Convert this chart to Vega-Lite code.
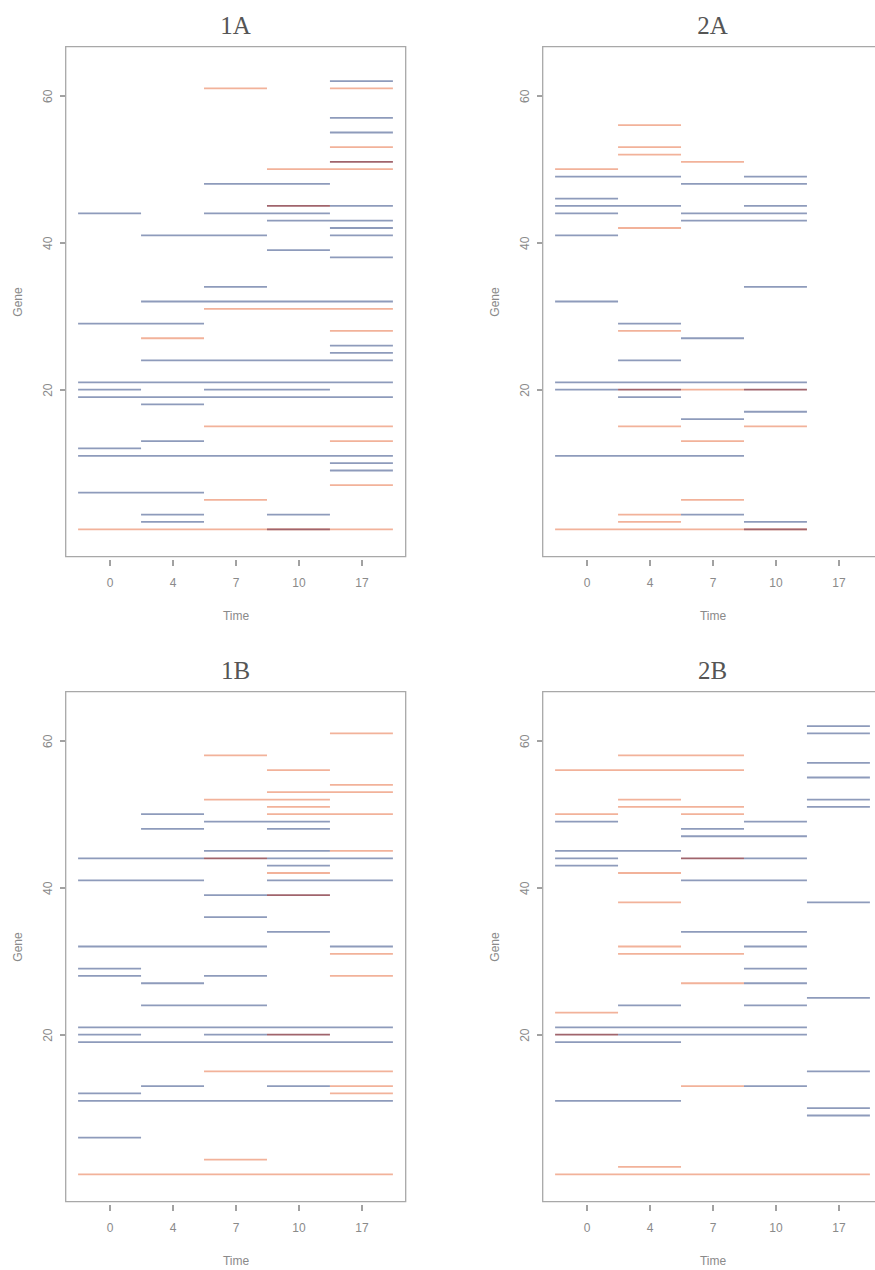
{
  "$schema": "https://vega.github.io/schema/vega-lite/v6.json",
  "description": "Gene segments over time points for four groups; each rule covers the time columns in which a gene is flagged.",
  "background": "white",
  "padding": {"left": 9.5, "top": 12.5, "right": 0, "bottom": 0},
  "datasets": {
    "segs": [
      {"panel": "1A", "gene": 62, "from": 4, "to": 5, "dir": "down"},
      {"panel": "1A", "gene": 61, "from": 2, "to": 3, "dir": "up"},
      {"panel": "1A", "gene": 61, "from": 4, "to": 5, "dir": "up"},
      {"panel": "1A", "gene": 57, "from": 4, "to": 5, "dir": "down"},
      {"panel": "1A", "gene": 55, "from": 4, "to": 5, "dir": "down"},
      {"panel": "1A", "gene": 53, "from": 4, "to": 5, "dir": "up"},
      {"panel": "1A", "gene": 50, "from": 3, "to": 5, "dir": "up"},
      {"panel": "1A", "gene": 48, "from": 2, "to": 4, "dir": "down"},
      {"panel": "1A", "gene": 45, "from": 4, "to": 5, "dir": "down"},
      {"panel": "1A", "gene": 44, "from": 0, "to": 1, "dir": "down"},
      {"panel": "1A", "gene": 44, "from": 2, "to": 4, "dir": "down"},
      {"panel": "1A", "gene": 43, "from": 3, "to": 5, "dir": "down"},
      {"panel": "1A", "gene": 42, "from": 4, "to": 5, "dir": "down"},
      {"panel": "1A", "gene": 41, "from": 1, "to": 3, "dir": "down"},
      {"panel": "1A", "gene": 41, "from": 4, "to": 5, "dir": "down"},
      {"panel": "1A", "gene": 39, "from": 3, "to": 4, "dir": "down"},
      {"panel": "1A", "gene": 38, "from": 4, "to": 5, "dir": "down"},
      {"panel": "1A", "gene": 34, "from": 2, "to": 3, "dir": "down"},
      {"panel": "1A", "gene": 32, "from": 1, "to": 5, "dir": "down"},
      {"panel": "1A", "gene": 31, "from": 2, "to": 5, "dir": "up"},
      {"panel": "1A", "gene": 29, "from": 0, "to": 2, "dir": "down"},
      {"panel": "1A", "gene": 28, "from": 4, "to": 5, "dir": "up"},
      {"panel": "1A", "gene": 27, "from": 1, "to": 2, "dir": "up"},
      {"panel": "1A", "gene": 26, "from": 4, "to": 5, "dir": "down"},
      {"panel": "1A", "gene": 25, "from": 4, "to": 5, "dir": "down"},
      {"panel": "1A", "gene": 24, "from": 1, "to": 5, "dir": "down"},
      {"panel": "1A", "gene": 21, "from": 0, "to": 5, "dir": "down"},
      {"panel": "1A", "gene": 20, "from": 0, "to": 1, "dir": "down"},
      {"panel": "1A", "gene": 20, "from": 2, "to": 4, "dir": "down"},
      {"panel": "1A", "gene": 19, "from": 0, "to": 5, "dir": "down"},
      {"panel": "1A", "gene": 18, "from": 1, "to": 2, "dir": "down"},
      {"panel": "1A", "gene": 15, "from": 2, "to": 5, "dir": "up"},
      {"panel": "1A", "gene": 13, "from": 1, "to": 2, "dir": "down"},
      {"panel": "1A", "gene": 13, "from": 4, "to": 5, "dir": "up"},
      {"panel": "1A", "gene": 12, "from": 0, "to": 1, "dir": "down"},
      {"panel": "1A", "gene": 11, "from": 0, "to": 5, "dir": "down"},
      {"panel": "1A", "gene": 10, "from": 4, "to": 5, "dir": "down"},
      {"panel": "1A", "gene": 9, "from": 4, "to": 5, "dir": "down"},
      {"panel": "1A", "gene": 7, "from": 4, "to": 5, "dir": "up"},
      {"panel": "1A", "gene": 6, "from": 0, "to": 2, "dir": "down"},
      {"panel": "1A", "gene": 5, "from": 2, "to": 3, "dir": "up"},
      {"panel": "1A", "gene": 3, "from": 1, "to": 2, "dir": "down"},
      {"panel": "1A", "gene": 3, "from": 3, "to": 4, "dir": "down"},
      {"panel": "1A", "gene": 2, "from": 1, "to": 2, "dir": "down"},
      {"panel": "1A", "gene": 1, "from": 0, "to": 5, "dir": "up"},

      {"panel": "2A", "gene": 56, "from": 1, "to": 2, "dir": "up"},
      {"panel": "2A", "gene": 53, "from": 1, "to": 2, "dir": "up"},
      {"panel": "2A", "gene": 52, "from": 1, "to": 2, "dir": "up"},
      {"panel": "2A", "gene": 51, "from": 2, "to": 3, "dir": "up"},
      {"panel": "2A", "gene": 50, "from": 0, "to": 1, "dir": "up"},
      {"panel": "2A", "gene": 49, "from": 0, "to": 2, "dir": "down"},
      {"panel": "2A", "gene": 49, "from": 3, "to": 4, "dir": "down"},
      {"panel": "2A", "gene": 48, "from": 2, "to": 4, "dir": "down"},
      {"panel": "2A", "gene": 46, "from": 0, "to": 1, "dir": "down"},
      {"panel": "2A", "gene": 45, "from": 0, "to": 2, "dir": "down"},
      {"panel": "2A", "gene": 45, "from": 3, "to": 4, "dir": "down"},
      {"panel": "2A", "gene": 44, "from": 0, "to": 1, "dir": "down"},
      {"panel": "2A", "gene": 44, "from": 2, "to": 4, "dir": "down"},
      {"panel": "2A", "gene": 43, "from": 2, "to": 4, "dir": "down"},
      {"panel": "2A", "gene": 42, "from": 1, "to": 2, "dir": "up"},
      {"panel": "2A", "gene": 41, "from": 0, "to": 1, "dir": "down"},
      {"panel": "2A", "gene": 34, "from": 3, "to": 4, "dir": "down"},
      {"panel": "2A", "gene": 32, "from": 0, "to": 1, "dir": "down"},
      {"panel": "2A", "gene": 29, "from": 1, "to": 2, "dir": "down"},
      {"panel": "2A", "gene": 28, "from": 1, "to": 2, "dir": "up"},
      {"panel": "2A", "gene": 27, "from": 2, "to": 3, "dir": "down"},
      {"panel": "2A", "gene": 24, "from": 1, "to": 2, "dir": "down"},
      {"panel": "2A", "gene": 21, "from": 0, "to": 4, "dir": "down"},
      {"panel": "2A", "gene": 20, "from": 0, "to": 1, "dir": "down"},
      {"panel": "2A", "gene": 20, "from": 2, "to": 3, "dir": "up"},
      {"panel": "2A", "gene": 19, "from": 1, "to": 2, "dir": "down"},
      {"panel": "2A", "gene": 17, "from": 3, "to": 4, "dir": "down"},
      {"panel": "2A", "gene": 16, "from": 2, "to": 3, "dir": "down"},
      {"panel": "2A", "gene": 15, "from": 1, "to": 2, "dir": "up"},
      {"panel": "2A", "gene": 15, "from": 3, "to": 4, "dir": "up"},
      {"panel": "2A", "gene": 13, "from": 2, "to": 3, "dir": "up"},
      {"panel": "2A", "gene": 11, "from": 0, "to": 3, "dir": "down"},
      {"panel": "2A", "gene": 5, "from": 2, "to": 3, "dir": "up"},
      {"panel": "2A", "gene": 3, "from": 1, "to": 2, "dir": "up"},
      {"panel": "2A", "gene": 3, "from": 2, "to": 3, "dir": "down"},
      {"panel": "2A", "gene": 2, "from": 1, "to": 2, "dir": "up"},
      {"panel": "2A", "gene": 2, "from": 3, "to": 4, "dir": "down"},
      {"panel": "2A", "gene": 1, "from": 0, "to": 4, "dir": "up"},

      {"panel": "1B", "gene": 61, "from": 4, "to": 5, "dir": "up"},
      {"panel": "1B", "gene": 58, "from": 2, "to": 3, "dir": "up"},
      {"panel": "1B", "gene": 56, "from": 3, "to": 4, "dir": "up"},
      {"panel": "1B", "gene": 54, "from": 4, "to": 5, "dir": "up"},
      {"panel": "1B", "gene": 53, "from": 3, "to": 5, "dir": "up"},
      {"panel": "1B", "gene": 52, "from": 2, "to": 4, "dir": "up"},
      {"panel": "1B", "gene": 51, "from": 3, "to": 4, "dir": "up"},
      {"panel": "1B", "gene": 50, "from": 1, "to": 2, "dir": "down"},
      {"panel": "1B", "gene": 50, "from": 3, "to": 5, "dir": "up"},
      {"panel": "1B", "gene": 49, "from": 2, "to": 4, "dir": "down"},
      {"panel": "1B", "gene": 48, "from": 1, "to": 2, "dir": "down"},
      {"panel": "1B", "gene": 48, "from": 3, "to": 4, "dir": "down"},
      {"panel": "1B", "gene": 45, "from": 2, "to": 4, "dir": "down"},
      {"panel": "1B", "gene": 45, "from": 4, "to": 5, "dir": "up"},
      {"panel": "1B", "gene": 44, "from": 0, "to": 2, "dir": "down"},
      {"panel": "1B", "gene": 44, "from": 3, "to": 5, "dir": "down"},
      {"panel": "1B", "gene": 43, "from": 3, "to": 4, "dir": "down"},
      {"panel": "1B", "gene": 42, "from": 3, "to": 4, "dir": "up"},
      {"panel": "1B", "gene": 41, "from": 0, "to": 2, "dir": "down"},
      {"panel": "1B", "gene": 41, "from": 3, "to": 5, "dir": "down"},
      {"panel": "1B", "gene": 39, "from": 2, "to": 3, "dir": "down"},
      {"panel": "1B", "gene": 36, "from": 2, "to": 3, "dir": "down"},
      {"panel": "1B", "gene": 34, "from": 3, "to": 4, "dir": "down"},
      {"panel": "1B", "gene": 32, "from": 0, "to": 3, "dir": "down"},
      {"panel": "1B", "gene": 32, "from": 4, "to": 5, "dir": "down"},
      {"panel": "1B", "gene": 31, "from": 4, "to": 5, "dir": "up"},
      {"panel": "1B", "gene": 29, "from": 0, "to": 1, "dir": "down"},
      {"panel": "1B", "gene": 28, "from": 0, "to": 1, "dir": "down"},
      {"panel": "1B", "gene": 28, "from": 2, "to": 3, "dir": "down"},
      {"panel": "1B", "gene": 28, "from": 4, "to": 5, "dir": "up"},
      {"panel": "1B", "gene": 27, "from": 1, "to": 2, "dir": "down"},
      {"panel": "1B", "gene": 24, "from": 1, "to": 3, "dir": "down"},
      {"panel": "1B", "gene": 21, "from": 0, "to": 5, "dir": "down"},
      {"panel": "1B", "gene": 20, "from": 0, "to": 1, "dir": "down"},
      {"panel": "1B", "gene": 20, "from": 2, "to": 3, "dir": "down"},
      {"panel": "1B", "gene": 19, "from": 0, "to": 5, "dir": "down"},
      {"panel": "1B", "gene": 15, "from": 2, "to": 5, "dir": "up"},
      {"panel": "1B", "gene": 13, "from": 1, "to": 2, "dir": "down"},
      {"panel": "1B", "gene": 13, "from": 3, "to": 4, "dir": "down"},
      {"panel": "1B", "gene": 13, "from": 4, "to": 5, "dir": "up"},
      {"panel": "1B", "gene": 12, "from": 0, "to": 1, "dir": "down"},
      {"panel": "1B", "gene": 12, "from": 4, "to": 5, "dir": "up"},
      {"panel": "1B", "gene": 11, "from": 0, "to": 5, "dir": "down"},
      {"panel": "1B", "gene": 6, "from": 0, "to": 1, "dir": "down"},
      {"panel": "1B", "gene": 3, "from": 2, "to": 3, "dir": "up"},
      {"panel": "1B", "gene": 1, "from": 0, "to": 5, "dir": "up"},

      {"panel": "2B", "gene": 62, "from": 4, "to": 5, "dir": "down"},
      {"panel": "2B", "gene": 61, "from": 4, "to": 5, "dir": "down"},
      {"panel": "2B", "gene": 58, "from": 1, "to": 3, "dir": "up"},
      {"panel": "2B", "gene": 57, "from": 4, "to": 5, "dir": "down"},
      {"panel": "2B", "gene": 56, "from": 0, "to": 3, "dir": "up"},
      {"panel": "2B", "gene": 55, "from": 4, "to": 5, "dir": "down"},
      {"panel": "2B", "gene": 52, "from": 1, "to": 2, "dir": "up"},
      {"panel": "2B", "gene": 52, "from": 4, "to": 5, "dir": "down"},
      {"panel": "2B", "gene": 51, "from": 1, "to": 3, "dir": "up"},
      {"panel": "2B", "gene": 51, "from": 4, "to": 5, "dir": "down"},
      {"panel": "2B", "gene": 50, "from": 0, "to": 1, "dir": "up"},
      {"panel": "2B", "gene": 50, "from": 2, "to": 3, "dir": "up"},
      {"panel": "2B", "gene": 49, "from": 0, "to": 1, "dir": "down"},
      {"panel": "2B", "gene": 49, "from": 3, "to": 4, "dir": "down"},
      {"panel": "2B", "gene": 48, "from": 2, "to": 3, "dir": "down"},
      {"panel": "2B", "gene": 47, "from": 2, "to": 4, "dir": "down"},
      {"panel": "2B", "gene": 45, "from": 0, "to": 2, "dir": "down"},
      {"panel": "2B", "gene": 44, "from": 0, "to": 1, "dir": "down"},
      {"panel": "2B", "gene": 44, "from": 3, "to": 4, "dir": "down"},
      {"panel": "2B", "gene": 43, "from": 0, "to": 1, "dir": "down"},
      {"panel": "2B", "gene": 42, "from": 1, "to": 2, "dir": "up"},
      {"panel": "2B", "gene": 41, "from": 2, "to": 4, "dir": "down"},
      {"panel": "2B", "gene": 38, "from": 1, "to": 2, "dir": "up"},
      {"panel": "2B", "gene": 38, "from": 4, "to": 5, "dir": "down"},
      {"panel": "2B", "gene": 34, "from": 2, "to": 4, "dir": "down"},
      {"panel": "2B", "gene": 32, "from": 1, "to": 2, "dir": "up"},
      {"panel": "2B", "gene": 32, "from": 3, "to": 4, "dir": "down"},
      {"panel": "2B", "gene": 31, "from": 1, "to": 3, "dir": "up"},
      {"panel": "2B", "gene": 29, "from": 3, "to": 4, "dir": "down"},
      {"panel": "2B", "gene": 27, "from": 2, "to": 3, "dir": "up"},
      {"panel": "2B", "gene": 27, "from": 3, "to": 4, "dir": "down"},
      {"panel": "2B", "gene": 25, "from": 4, "to": 5, "dir": "down"},
      {"panel": "2B", "gene": 24, "from": 1, "to": 2, "dir": "down"},
      {"panel": "2B", "gene": 24, "from": 3, "to": 4, "dir": "down"},
      {"panel": "2B", "gene": 23, "from": 0, "to": 1, "dir": "up"},
      {"panel": "2B", "gene": 21, "from": 0, "to": 4, "dir": "down"},
      {"panel": "2B", "gene": 20, "from": 1, "to": 4, "dir": "down"},
      {"panel": "2B", "gene": 19, "from": 0, "to": 2, "dir": "down"},
      {"panel": "2B", "gene": 15, "from": 4, "to": 5, "dir": "down"},
      {"panel": "2B", "gene": 13, "from": 2, "to": 3, "dir": "up"},
      {"panel": "2B", "gene": 13, "from": 3, "to": 4, "dir": "down"},
      {"panel": "2B", "gene": 11, "from": 0, "to": 2, "dir": "down"},
      {"panel": "2B", "gene": 10, "from": 4, "to": 5, "dir": "down"},
      {"panel": "2B", "gene": 9, "from": 4, "to": 5, "dir": "down"},
      {"panel": "2B", "gene": 2, "from": 1, "to": 2, "dir": "up"},
      {"panel": "2B", "gene": 1, "from": 0, "to": 5, "dir": "up"},

      {"panel": "1A", "gene": 51, "from": 4, "to": 5, "dir": "both"},
      {"panel": "1A", "gene": 45, "from": 3, "to": 4, "dir": "both"},
      {"panel": "1A", "gene": 1, "from": 3, "to": 4, "dir": "both"},
      {"panel": "2A", "gene": 20, "from": 1, "to": 2, "dir": "both"},
      {"panel": "2A", "gene": 20, "from": 3, "to": 4, "dir": "both"},
      {"panel": "2A", "gene": 1, "from": 3, "to": 4, "dir": "both"},
      {"panel": "1B", "gene": 44, "from": 2, "to": 3, "dir": "both"},
      {"panel": "1B", "gene": 39, "from": 3, "to": 4, "dir": "both"},
      {"panel": "1B", "gene": 20, "from": 3, "to": 4, "dir": "both"},
      {"panel": "2B", "gene": 44, "from": 2, "to": 3, "dir": "both"},
      {"panel": "2B", "gene": 20, "from": 0, "to": 1, "dir": "both"}
    ]
  },
  "data": {"name": "segs"},
  "facet": {
    "field": "panel",
    "type": "nominal",
    "sort": ["1A", "2A", "1B", "2B"],
    "header": {
      "title": null,
      "labelFont": "Liberation Serif",
      "labelFontSize": 25,
      "labelColor": "#555555",
      "labelPadding": 8
    }
  },
  "columns": 2,
  "spacing": {"row": 35, "column": 80},
  "resolve": {"axis": {"x": "independent", "y": "independent"}},
  "spec": {
    "width": 340,
    "height": 510,
    "mark": {"type": "rule", "strokeWidth": 1.8},
    "encoding": {
      "x": {
        "field": "from",
        "type": "quantitative",
        "title": "Time",
        "scale": {"domain": [-0.2, 5.2], "nice": false, "zero": false},
        "axis": {
          "values": [0.5, 1.5, 2.5, 3.5, 4.5],
          "labelExpr": "['0','4','7','10','17'][floor(datum.value)]",
          "offset": 3,
          "tickSize": 6,
          "labelPadding": 12,
          "titlePadding": 22
        }
      },
      "x2": {"field": "to"},
      "y": {
        "field": "gene",
        "type": "quantitative",
        "title": "Gene",
        "scale": {"domain": [-2.7, 66.7], "nice": false, "zero": false},
        "axis": {
          "values": [20, 40, 60],
          "labelAngle": -90,
          "labelAlign": "center",
          "labelBaseline": "bottom",
          "offset": 1,
          "tickSize": 5,
          "labelPadding": 5.5,
          "titlePadding": 17
        }
      },
      "color": {
        "field": "dir",
        "type": "nominal",
        "scale": {"domain": ["down", "up", "both"], "range": ["#8e9bbb", "#f2b29a", "#a0646c"]},
        "legend": null
      }
    }
  },
  "config": {
    "view": {"stroke": "#a8a8a8", "strokeWidth": 1.3},
    "axis": {
      "grid": false,
      "domain": false,
      "labelFont": "Liberation Sans",
      "labelFontSize": 12,
      "labelColor": "#8a8a8a",
      "titleFont": "Liberation Sans",
      "titleFontSize": 12,
      "titleFontWeight": "normal",
      "titleColor": "#8a8a8a",
      "tickColor": "#444444",
      "tickWidth": 1
    }
  }
}
